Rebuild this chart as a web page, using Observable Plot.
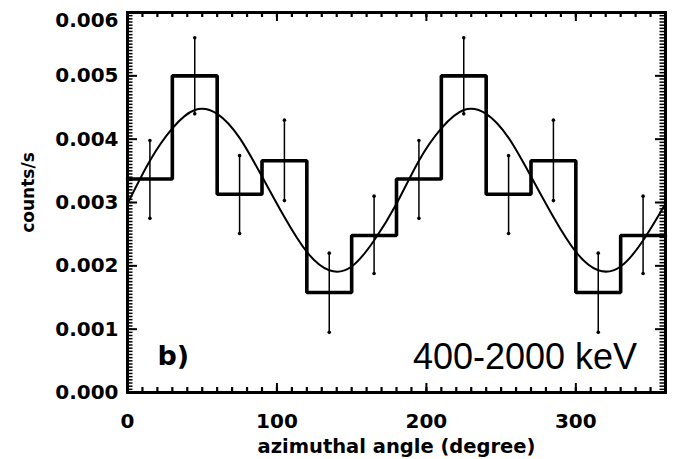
<!DOCTYPE html>
<html><head><meta charset="utf-8">
<script src="https://cdn.jsdelivr.net/npm/d3@7"></script>
<script src="https://cdn.jsdelivr.net/npm/@observablehq/plot@0.6"></script>
<style>html,body{margin:0;padding:0;background:#fff}</style>
</head><body><div id="chart"></div>
<script>
// Histogram bins (30° wide), measured counts and 1-sigma error ranges
const binStart  = [0, 30, 60, 90, 120, 150, 180, 210, 240, 270, 300, 330];
const binCenter = [15, 45, 75, 105, 135, 165, 195, 225, 255, 285, 315, 345];
const counts    = [0.00337, 0.00500, 0.00313, 0.00366, 0.00158, 0.00248,
                   0.00337, 0.00500, 0.00313, 0.00366, 0.00158, 0.00248];
const errLow    = [0.00275, 0.00440, 0.00251, 0.00303, 0.00095, 0.00188,
                   0.00275, 0.00440, 0.00251, 0.00303, 0.00095, 0.00188];
const errHigh   = [0.00398, 0.00560, 0.00374, 0.00430, 0.00220, 0.00310,
                   0.00398, 0.00560, 0.00374, 0.00430, 0.00220, 0.00310];
// Fitted modulation curve, every 15°
const fitAngle  = [0, 15, 30, 45, 60, 75, 90, 105, 120, 135, 150, 165, 180,
                   195, 210, 225, 240, 255, 270, 285, 300, 315, 330, 345, 360];
const fitCounts = [0.00298, 0.00366, 0.00417, 0.00446, 0.00440, 0.00402, 0.00341,
                   0.00277, 0.00222, 0.00193, 0.00199, 0.00240, 0.00298,
                   0.00366, 0.00417, 0.00446, 0.00440, 0.00402, 0.00341,
                   0.00277, 0.00222, 0.00193, 0.00199, 0.00240, 0.00298];
// Axis ticks
const xTicks = [0, 100, 200, 300];
const yTicks = [0.000, 0.001, 0.002, 0.003, 0.004, 0.005, 0.006];
const xMinor = [0, 10, 20, 30, 40, 50, 60, 70, 80, 90, 100, 110, 120, 130, 140, 150, 160, 170, 180,
                190, 200, 210, 220, 230, 240, 250, 260, 270, 280, 290, 300, 310, 320, 330, 340, 350, 360];
const yMinor = Array.from({length: 121}, (_, i) => i * 0.00005);
const panelLabel = "b)";
const energyLabel = "400-2000 keV";
const xLabel = "azimuthal angle (degree)";
const yLabel = "counts/s";

const W = 673, H = 459, ML = 127, MR = 8, MT = 12, MB = 67;
const innerW = W - ML - MR, innerH = H - MT - MB;
const X0 = 0, X1 = 360, Y0 = 0, Y1 = 0.006;
const pxX = (X1 - X0) / innerW;   // data units per pixel
const pxY = (Y1 - Y0) / innerH;

const stepData = binStart.map((x, i) => ({x, y: counts[i]}))
  .concat([{x: 360, y: counts[counts.length - 1]}]);
const bars = binCenter.map((x, i) => ({x, y: counts[i], lo: errLow[i], hi: errHigh[i]}));
const fit = fitAngle.map((x, i) => ({x, y: fitCounts[i]}));
const fmt = d3.format(".3f");
const font = "'DejaVu Sans', sans-serif";

// inward ticks as short rules (tables built from tick arrays)
const tickRowsX = (t, len, top) => t.map(v => ({x: v, a: top ? Y1 : Y0, b: top ? Y1 - len * pxY : Y0 + len * pxY}));
const tickRowsY = (t, len, right) => t.map(v => ({y: v, a: right ? X1 : X0, b: right ? X1 - len * pxX : X0 + len * pxX}));
const xTickMark = (t, len, top, sw) => Plot.ruleX(tickRowsX(t, len, top), {x: "x", y1: "a", y2: "b", stroke: "black", strokeWidth: sw});
const yTickMark = (t, len, right, sw) => Plot.ruleY(tickRowsY(t, len, right), {y: "y", x1: "a", x2: "b", stroke: "black", strokeWidth: sw});

const chart = Plot.plot({
  width: W, height: H,
  marginLeft: ML, marginRight: MR, marginTop: MT, marginBottom: MB,
  x: {domain: [X0, X1], axis: null},
  y: {domain: [Y0, Y1], axis: null},
  style: {fontFamily: font, fontSize: "20px", fontWeight: "bold", color: "black", background: "white"},
  marks: [
    Plot.frame({stroke: "black", strokeWidth: 3}),
    // inward ticks on all four sides
    yTickMark(yMinor, 5.5, false, 1.5), yTickMark(yMinor, 5.5, true, 1.5),
    yTickMark(yTicks, 10, false, 2), yTickMark(yTicks, 10, true, 2),
    xTickMark(xMinor, 5, false, 2.2), xTickMark(xMinor, 5, true, 2.2),
    xTickMark(xTicks, 9, false, 2), xTickMark(xTicks, 9, true, 2),
    // tick labels
    Plot.axisY({anchor: "left", ticks: yTicks.slice(0, 6), tickSize: 0, tickPadding: 9, tickFormat: fmt, label: null,
                fontSize: 20, fontWeight: "bold"}),
    Plot.axisY({anchor: "left", ticks: yTicks.slice(6), tickSize: 0, tickPadding: 9, dy: 8, tickFormat: fmt, label: null,
                fontSize: 20, fontWeight: "bold"}),
    Plot.axisX({anchor: "bottom", ticks: xTicks, tickSize: 0, tickPadding: 21, tickFormat: d => String(d), label: null,
                fontSize: 20, fontWeight: "bold"}),
    // axis titles
    Plot.text([xLabel], {frameAnchor: "bottom", lineAnchor: "top", dy: 47, fontSize: 19.5, fontWeight: "bold"}),
    Plot.text([yLabel], {frameAnchor: "left", textAnchor: "middle", lineAnchor: "middle", rotate: -90, dx: -99, dy: -10,
                         fontSize: 17, fontWeight: "bold"}),
    // histogram outline
    Plot.line(stepData, {x: "x", y: "y", curve: "step-after", stroke: "black", strokeWidth: 3.6, strokeLinejoin: "miter"}),
    // error bars
    Plot.ruleX(bars, {x: "x", y1: "lo", y2: "hi", stroke: "black", strokeWidth: 1.5}),
    Plot.dot(bars, {x: "x", y: "lo", r: 1.8, fill: "black"}),
    Plot.dot(bars, {x: "x", y: "hi", r: 1.8, fill: "black"}),
    // fit curve
    Plot.line(fit, {x: "x", y: "y", curve: "natural", stroke: "black", strokeWidth: 2}),
    // annotations
    Plot.text([panelLabel], {x: () => 20, y: () => 0.00057, textAnchor: "start", fontSize: 27, fontWeight: "bold"}),
    Plot.text([energyLabel], {x: () => 341, y: () => 0.00056, textAnchor: "end", fontSize: 36, fontWeight: "normal",
                fontFamily: "'Liberation Sans', Arial, sans-serif"})
  ]
});
document.getElementById("chart").appendChild(chart);
</script>
</body></html>
